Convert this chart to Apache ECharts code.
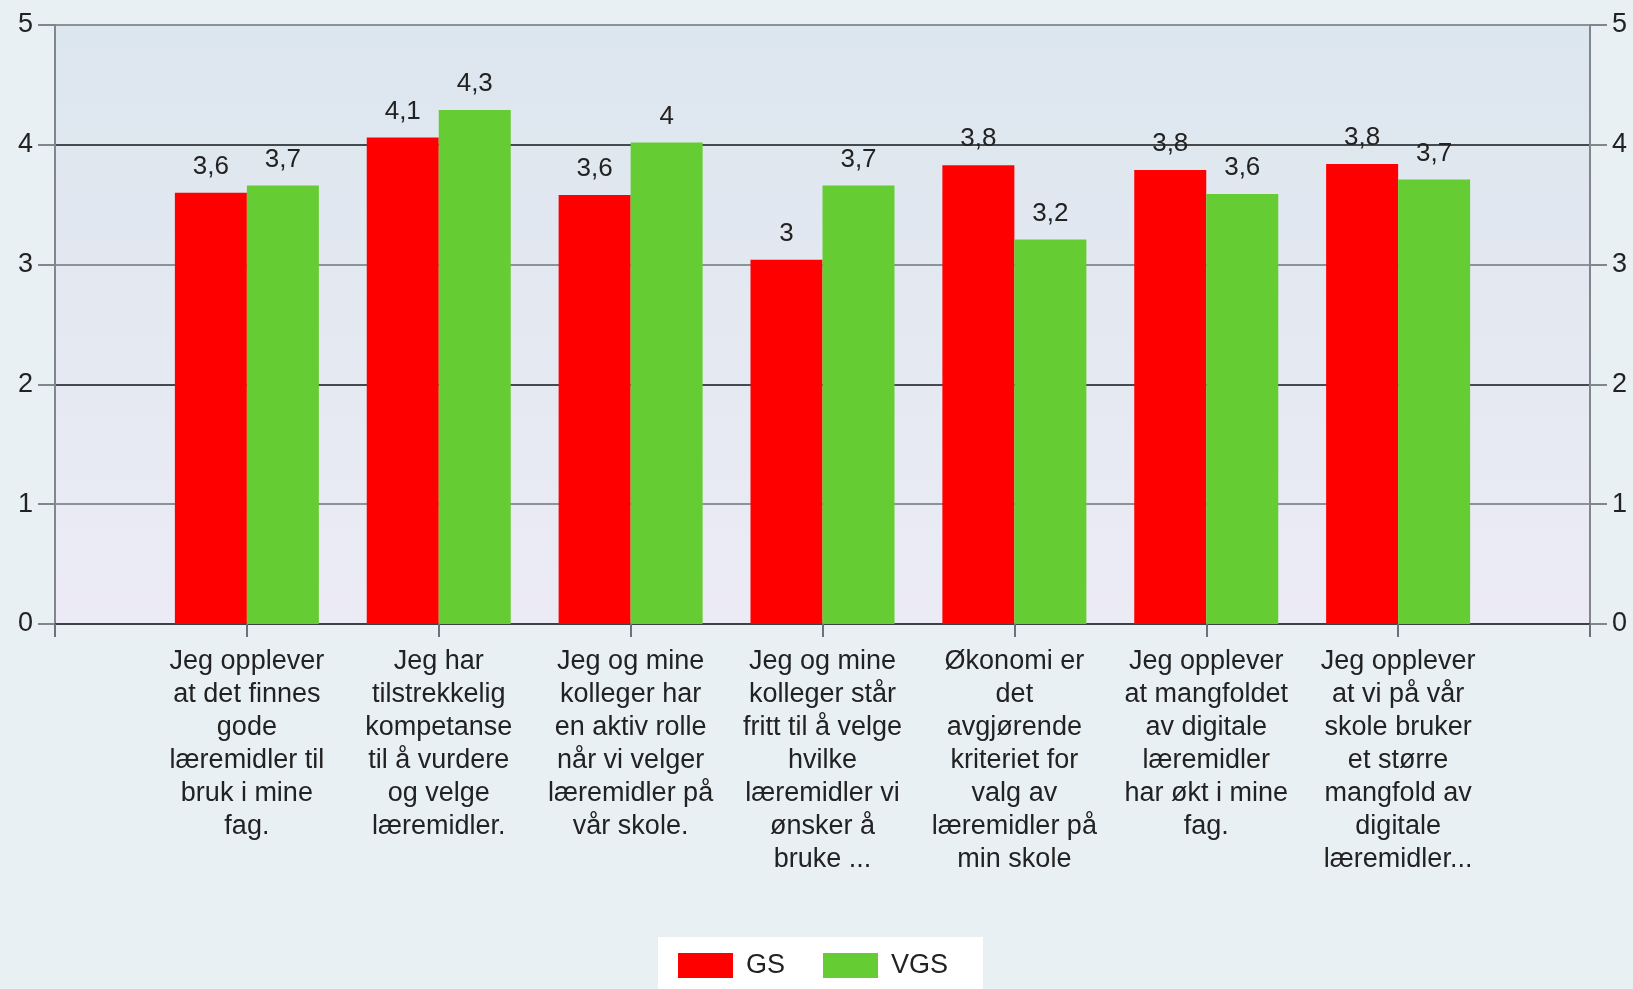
<!DOCTYPE html>
<html>
<head>
<meta charset="utf-8">
<title>GS / VGS</title>
<script src="https://cdn.jsdelivr.net/npm/echarts@6/dist/echarts.min.js"></script>
<style>
  html, body { margin: 0; padding: 0; background: #e8f0f4; }
  #chart { width: 1633px; height: 989px; }
</style>
</head>
<body>
<div id="chart"></div>
<script>
  // empty slot at each end so the bars sit on the ticks like in the original
  var categories = [
    '',
    'Jeg opplever\nat det finnes\ngode\nlæremidler til\nbruk i mine\nfag.',
    'Jeg har\ntilstrekkelig\nkompetanse\ntil å vurdere\nog velge\nlæremidler.',
    'Jeg og mine\nkolleger har\nen aktiv rolle\nnår vi velger\nlæremidler på\nvår skole.',
    'Jeg og mine\nkolleger står\nfritt til å velge\nhvilke\nlæremidler vi\nønsker å\nbruke ...',
    'Økonomi er\ndet\navgjørende\nkriteriet for\nvalg av\nlæremidler på\nmin skole',
    'Jeg opplever\nat mangfoldet\nav digitale\nlæremidler\nhar økt i mine\nfag.',
    'Jeg opplever\nat vi på vår\nskole bruker\net større\nmangfold av\ndigitale\nlæremidler...',
    ''
  ];
  var gsValues  = [null, 3.60, 4.06, 3.58, 3.04, 3.83, 3.79, 3.84, null];
  var vgsValues = [null, 3.66, 4.29, 4.02, 3.66, 3.21, 3.59, 3.71, null];
  var yTicks = [0, 5, 1]; // min, max, interval

  var fontFam = '"Liberation Sans", Arial, sans-serif';

  function fmt(p) {
    if (p.value == null) return '';
    return String(Number(p.value.toFixed(1))).replace('.', ',');
  }

  var myChart = echarts.init(document.getElementById('chart'));
  var option = {
    backgroundColor: '#e8f0f4',
    animation: false,
    textStyle: { fontFamily: fontFam },
    grid: {
      left: 55, right: 43, top: 25, bottom: 365,
      show: true,
      borderWidth: 0,
      backgroundColor: new echarts.graphic.LinearGradient(0, 0, 0, 1, [
        { offset: 0, color: '#dce6ee' },
        { offset: 1, color: '#ecebf5' }
      ])
    },
    legend: {
      left: 658, top: 937,
      padding: [15, 35, 20, 20],
      backgroundColor: '#ffffff',
      itemWidth: 55, itemHeight: 25, itemGap: 38,
      icon: 'rect',
      textStyle: { fontSize: 27, color: '#222', fontFamily: fontFam, padding: [0, 0, 0, 8] },
      data: ['GS', 'VGS']
    },
    xAxis: {
      type: 'category',
      data: categories,
      boundaryGap: false,
      axisLine: { lineStyle: { color: '#3c4146', width: 2 } },
      axisTick: { show: true, length: 13, alignWithLabel: true, lineStyle: { color: '#6c7278', width: 2 } },
      axisLabel: {
        interval: 0,
        fontSize: 27,
        lineHeight: 33,
        color: '#222',
        margin: 21,
        fontFamily: fontFam
      },
      splitLine: { show: false }
    },
    yAxis: [
      {
        type: 'value',
        min: yTicks[0], max: yTicks[1], interval: yTicks[2],
        axisLine: { show: true, lineStyle: { color: '#80868c', width: 2 } },
        axisTick: { show: true, length: 17, lineStyle: { color: '#80868c', width: 2 } },
        axisLabel: { fontSize: 27, color: '#222', margin: 22, fontFamily: fontFam },
        splitLine: { show: true, lineStyle: { color: ['#454a50', '#8c9298'], width: 2 } }
      },
      {
        type: 'value',
        position: 'right',
        min: yTicks[0], max: yTicks[1], interval: yTicks[2],
        axisLine: { show: true, lineStyle: { color: '#80868c', width: 2 } },
        axisTick: { show: true, length: 17, lineStyle: { color: '#80868c', width: 2 } },
        axisLabel: { fontSize: 27, color: '#222', margin: 22, fontFamily: fontFam },
        splitLine: { show: false }
      }
    ],
    series: [
      {
        name: 'GS',
        type: 'bar',
        data: gsValues,
        barWidth: 72,
        barGap: '0%',
        itemStyle: { color: '#ff0000' },
        label: { show: true, position: 'top', distance: 13, fontSize: 26, color: '#222', formatter: fmt }
      },
      {
        name: 'VGS',
        type: 'bar',
        data: vgsValues,
        barWidth: 72,
        barGap: '0%',
        itemStyle: { color: '#66cc33' },
        label: { show: true, position: 'top', distance: 13, fontSize: 26, color: '#222', formatter: fmt }
      }
    ]
  };
  myChart.setOption(option);
</script>
</body>
</html>
